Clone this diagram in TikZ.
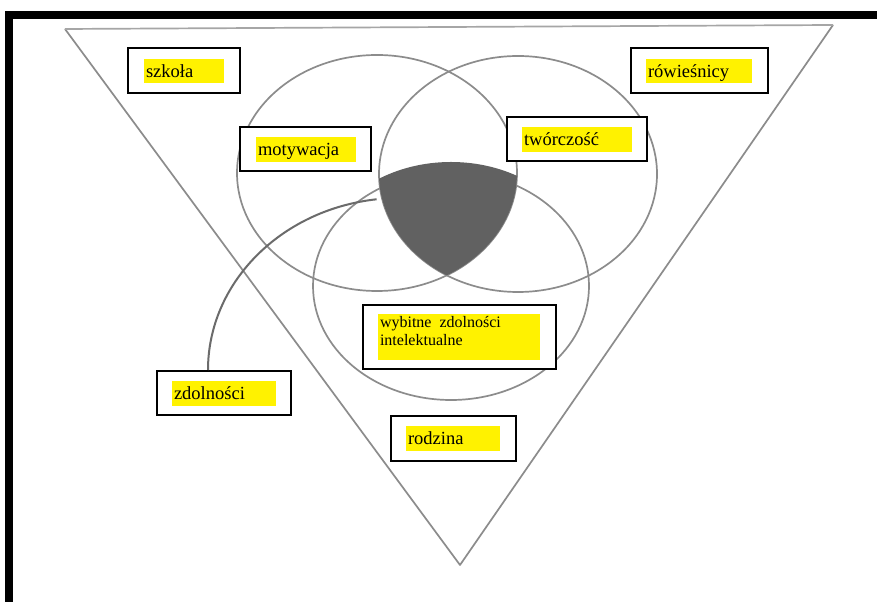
\documentclass[tikz,border=0pt]{standalone}
\usepackage{fontspec}
\setmainfont{Liberation Serif}
\usetikzlibrary{calc}
\begin{document}
\begin{tikzpicture}[x=1pt,y=1pt,
  line/.style={draw=black!45, line width=1.7pt},
  topline/.style={draw=black!35, line width=1.7pt},
  curveline/.style={draw=black!58, line width=2pt},
  box/.style={draw=black, line width=2.4pt, fill=white, inner sep=0pt},
  hl/.style={fill=yellow, inner xsep=2pt, inner ysep=0pt, align=left, text depth=0pt,
             font=\fontsize{18.5}{22}\selectfont, anchor=center},
  hlfill/.style={fill=yellow, inner sep=0pt},
  smalltext/.style={inner sep=0pt, align=left, anchor=north west, font=\fontsize{16}{18}\selectfont}]
\useasboundingbox (0,0) rectangle (877,602);
\fill[white] (0,0) rectangle (877,602);
% frame
\fill[black] (5,583) rectangle (877,591);
\fill[black] (5,0) rectangle (13,591);
% triangle
\coordinate (ttl) at (65,573);
\coordinate (ttr) at (833,577);
\coordinate (tbot) at (460,37);
\draw[line, line join=round] (ttr) -- (tbot) -- (ttl);
\draw[topline] (ttl) -- (ttr);
% circles
\draw[line] (377,429) ellipse [x radius=140, y radius=118];
\draw[line] (518,428) ellipse [x radius=139, y radius=118];
\draw[line] (451,316) ellipse [x radius=138, y radius=114];
% shaded core
\begin{scope}
  \clip (377,429) ellipse [x radius=140, y radius=118];
  \clip (518,428) ellipse [x radius=139, y radius=118];
  \clip (451,326) ellipse [x radius=138, y radius=114];
  \fill[black!62] (300,300) rectangle (600,500);
\end{scope}
% boxes
\node[box, minimum width=111.6pt, minimum height=44.6pt] (szkolabox) at (184,531.5) {};
\node[hl, text width=76pt, minimum height=24pt] (szkola) at (184,531) {szkoła};
\node[box, minimum width=136.6pt, minimum height=44.6pt] (rowbox) at (699.5,531.5) {};
\node[hl, text width=102pt, minimum height=24pt] (row) at (699,531) {rówieśnicy};
\node[box, minimum width=130.6pt, minimum height=43.6pt] (motbox) at (305.5,453) {};
\node[hl, text width=96pt, minimum height=25pt] (mot) at (306,452.5) {motywacja};
\node[box, minimum width=139.6pt, minimum height=43.6pt] (twobox) at (577,463) {};
\node[hl, text width=106pt, minimum height=25pt] (two) at (577,462.5) {twórczość};
\node[box, minimum width=192.6pt, minimum height=63.6pt] (wybbox) at (459.5,265) {};
\node[hlfill, minimum width=162pt, minimum height=46pt] (wybhl) at (459,265) {};
\node[smalltext] (wyb) at ($(wybhl.north west)+(2,-2)$) {wybitne\ \ zdolności\\intelektualne};
\node[box, minimum width=133.6pt, minimum height=43.6pt] (zdbox) at (224,209) {};
\node[hl, text width=100pt, minimum height=25pt] (zd) at (224,208.5) {zdolności};
\node[box, minimum width=124.6pt, minimum height=44.6pt] (rodbox) at (453.5,163.5) {};
\node[hl, text width=90pt, minimum height=25pt] (rod) at (453,163.5) {rodzina};
% zdolnosci arc
\draw[curveline] ($(zdbox.north)+(-16,0)$) arc[start angle=180, end angle=97, x radius=192, y radius=172] coordinate (zdend);
\end{tikzpicture}
\end{document}
